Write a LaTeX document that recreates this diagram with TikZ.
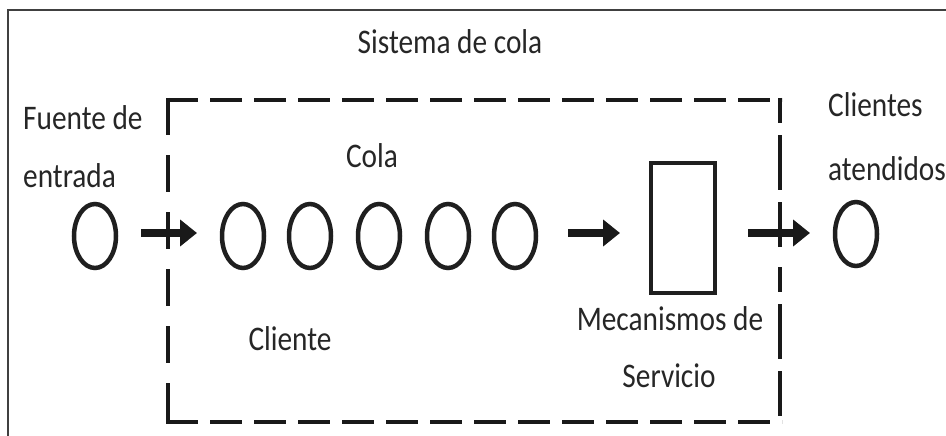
\documentclass[tikz,border=0pt]{standalone}
\usepackage{fontspec}
\setmainfont{Carlito}
\usetikzlibrary{arrows.meta,shapes.geometric}
\newcommand{\lbltxt}[1]{\scalebox{0.85}[1]{#1}}
\begin{document}
\begin{tikzpicture}[x=1pt,y=-1pt,
  cust/.style={ellipse,draw=black!88,line width=4.5pt,minimum width=42pt,minimum height=64pt,inner sep=0pt,outer sep=0pt},
  server/.style={rectangle,draw=black!88,line width=4pt,minimum width=64pt,minimum height=130pt,inner sep=0pt,outer sep=0pt},
  lbl/.style={inner sep=0pt,text=black!85,font=\fontsize{34.5}{40}\selectfont},
  arr/.style={draw=black!90,line width=8pt,-{Triangle[length=17pt,width=26pt]}},
  dashbox/.style={draw=black!90,line width=4pt}]
\useasboundingbox (0,0) rectangle (946,436);
% outer frame (left and top)
\draw[draw=black!75,line width=2pt] (8,436) -- (8,10) -- (946,10);
% dashed system box
\draw[dashbox,dash pattern=on 32pt off 12pt] (166,100) -- (782,100);
\draw[dashbox,dash pattern=on 32pt off 12pt] (166,422) -- (782,422);
\draw[dashbox,dash pattern=on 37pt off 20pt] (168,98) -- (168,424);
\draw[dashbox,dash pattern=on 25pt off 12pt on 55pt off 12pt on 45pt off 20pt] (780,98) -- (780,424);
% nodes
\node[cust] (src) at (95,236) {};
\node[cust] (q1) at (243,236) {};
\node[cust] (q2) at (310,236) {};
\node[cust] (q3) at (379,236) {};
\node[cust] (q4) at (448,236) {};
\node[cust] (q5) at (515,236) {};
\node[server] (srv) at (683,228) {};
\node[cust] (out) at (856,234) {};
% arrows
\draw[arr,shorten <=25pt,shorten >=25pt] (src.east |- 0,233) -- (q1.west |- 0,233);
\draw[arr,shorten <=32pt,shorten >=31pt] (q5.east |- 0,233) -- (srv.west |- 0,233);
\draw[arr,shorten <=33pt,shorten >=25pt] (srv.east |- 0,233) -- (out.west |- 0,233);
% labels
\node[lbl,anchor=base] (tsys) at (450,54) {\lbltxt{Sistema de cola}};
\node[lbl,anchor=base west] (tfu1) at (23,129) {\lbltxt{Fuente de}};
\node[lbl,anchor=base west] (tfu2) at (23,187) {\lbltxt{entrada}};
\node[lbl,anchor=base] (tcola) at (372,167) {\lbltxt{Cola}};
\node[lbl,anchor=base] (tcli) at (290,350) {\lbltxt{Cliente}};
\node[lbl,anchor=base] (tmec1) at (670,330) {\lbltxt{Mecanismos de}};
\node[lbl,anchor=base] (tmec2) at (669,387) {\lbltxt{Servicio}};
\node[lbl,anchor=base west] (tat1) at (828,117) {\lbltxt{Clientes}};
\node[lbl,anchor=base west] (tat2) at (828,180) {\lbltxt{atendidos}};
\end{tikzpicture}
\end{document}
